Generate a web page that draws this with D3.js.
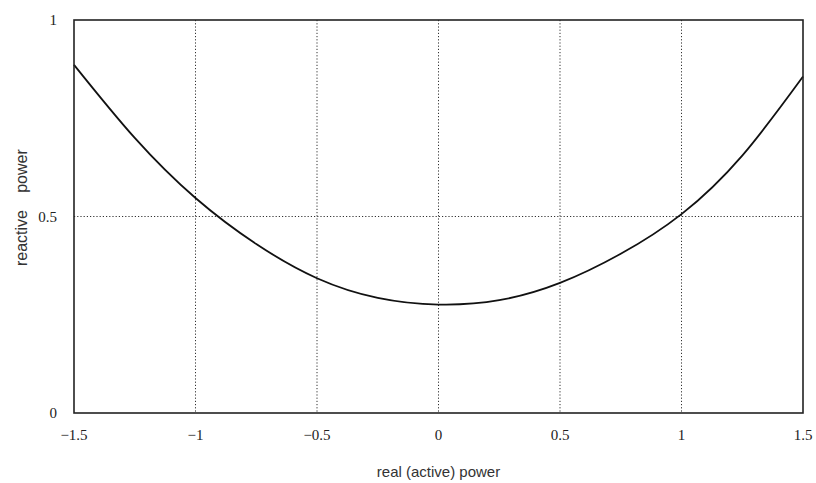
<!DOCTYPE html>
<html><head><meta charset="utf-8">
<script src="https://cdn.jsdelivr.net/npm/d3@7"></script>
<style>body{margin:0;background:#fff;}</style>
</head><body>
<svg id="c" width="816" height="483"></svg>
<script>
const xValues = [-1.5,-1.25,-1,-0.75,-0.5,-0.25,0,0.25,0.5,0.75,1,1.25,1.5];
const yValues = [0.886,0.70,0.547,0.43,0.343,0.293,0.276,0.287,0.331,0.405,0.506,0.655,0.856];
const xTicks = [-1.5,-1,-0.5,0,0.5,1,1.5];
const xTickLabels = ["\u22121.5","\u22121","\u22120.5","0","0.5","1","1.5"];
const yTicks = [0,0.5,1];
const yTickLabels = ["0","0.5","1"];
const xGrid = [-1,-0.5,0,0.5,1];
const yGrid = [0.5];
const yTitleWords = ["reactive","power"];

const svg = d3.select("#c");
const L=74,R=803,T=20,B=413;
const x = d3.scaleLinear().domain([-1.5,1.5]).range([L,R]);
const y = d3.scaleLinear().domain([0,1]).range([B,T]);

// grid
svg.append("g").selectAll("line").data(xGrid).join("line")
 .attr("x1",d=>x(d)).attr("x2",d=>x(d)).attr("y1",T).attr("y2",B)
 .attr("stroke","#333").attr("stroke-width",1).attr("stroke-dasharray","1.2,2");
svg.append("g").selectAll("line").data(yGrid).join("line")
 .attr("y1",d=>y(d)).attr("y2",d=>y(d)).attr("x1",L).attr("x2",R)
 .attr("stroke","#333").attr("stroke-width",1).attr("stroke-dasharray","1.2,2");

// curve
const pts = xValues.map((v,i)=>[v,yValues[i]]);
svg.append("path").datum(pts)
 .attr("d", d3.line().x(d=>x(d[0])).y(d=>y(d[1])).curve(d3.curveNatural))
 .attr("fill","none").attr("stroke","#111").attr("stroke-width",1.8);

// frame
svg.append("rect").attr("x",L).attr("y",T).attr("width",R-L).attr("height",B-T)
 .attr("fill","none").attr("stroke","#222").attr("stroke-width",1.6);

// x tick labels
svg.append("g").selectAll("text").data(xTicks).join("text")
 .attr("x",d=>x(d)).attr("y",440)
 .attr("text-anchor","middle")
 .attr("font-family","'Liberation Serif','DejaVu Serif',serif").attr("font-size",15).attr("fill","#222")
 .text((d,i)=>xTickLabels[i]);

// y tick labels
svg.append("g").selectAll("text").data(yTicks).join("text")
 .attr("x",57).attr("y",d=>y(d)+5)
 .attr("text-anchor","end")
 .attr("font-family","'Liberation Serif','DejaVu Serif',serif").attr("font-size",15).attr("fill","#222")
 .text((d,i)=>yTickLabels[i]);

// axis titles
svg.append("text").attr("x",x(0)).attr("y",477).attr("text-anchor","middle")
 .attr("font-family","'Liberation Sans',Arial,sans-serif").attr("font-size",15).attr("fill","#333")
 .text("real (active) power");
const yCenters = [238,171];
svg.append("g").selectAll("text").data(yTitleWords).join("text")
 .attr("transform",(d,i)=>`translate(27,${yCenters[i]}) rotate(-90)`).attr("text-anchor","middle")
 .attr("font-family","'Liberation Sans',Arial,sans-serif").attr("font-size",16).attr("fill","#333")
 .text(d=>d);
</script>
</body></html>
